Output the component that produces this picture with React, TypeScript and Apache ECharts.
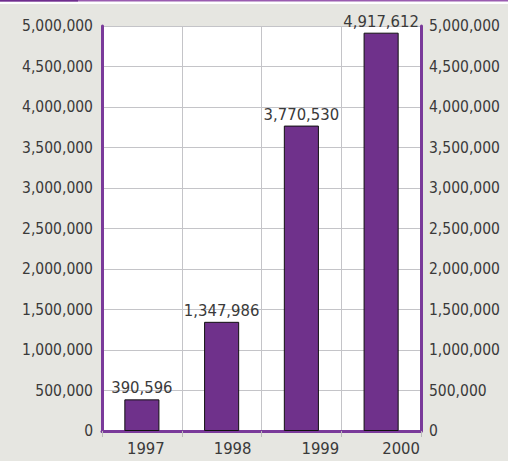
import React, { useEffect, useRef } from "react";
import * as echarts from "echarts";

const years = ["1997", "1998", "1999", "2000"];
const visitors = [390596, 1347986, 3770530, 4917612];
const labelShift = [8, 22, 38, 40];

const FONT = "'DejaVu Sans Condensed', 'Liberation Sans Narrow', sans-serif";
const FS = 15.5;
const TEXT = "#3a3a3a";
const PURPLE = "#7a3a9a";

export default function App() {
  const ref = useRef<HTMLDivElement>(null);
  useEffect(() => {
    if (!ref.current) return;
    const chart = echarts.init(ref.current, null, { renderer: "svg" });
    const fmt = (v: number) => v.toLocaleString("en-US");
    const yLabel = {
      color: TEXT,
      fontFamily: FONT,
      fontSize: FS,
      formatter: (v: number) => fmt(v),
    };
    chart.setOption({
      animation: false,
      backgroundColor: "#e6e6e1",
      graphic: [
        { type: "rect", shape: { x: 0, y: 0, width: 508, height: 4 }, style: { fill: "#ffffff" } },
        { type: "rect", shape: { x: 0, y: 0, width: 508, height: 1.5 }, style: { fill: "#9a5cb0" } },
        { type: "rect", shape: { x: 0, y: 0, width: 78, height: 1.5 }, style: { fill: "#6f2e8e" } },
      ],
      grid: { left: 102, right: 87, top: 26, bottom: 30, containLabel: false, backgroundColor: "#ffffff", show: true, borderWidth: 0 },
      xAxis: {
        type: "category",
        data: years,
        boundaryGap: true,
        axisLine: { show: true, lineStyle: { color: PURPLE, width: 3 } },
        axisTick: { show: true, length: 6, lineStyle: { color: "#bbbbbb" } },
        splitLine: { show: true, lineStyle: { color: "#c4c4c8", width: 1 } },
        axisLabel: {
          margin: 9,
          formatter: (v: string) => `{a${years.indexOf(v)}|${v}}`,
          rich: Object.fromEntries(
            years.map((_, i) => [
              `a${i}`,
              { color: TEXT, fontFamily: FONT, fontSize: FS + 1, padding: [0, 0, 0, labelShift[i]] },
            ])
          ),
        },
      },
      yAxis: [
        {
          type: "value",
          min: 0,
          max: 5000000,
          interval: 500000,
          position: "left",
          axisLine: { show: true, lineStyle: { color: PURPLE, width: 3 } },
          axisTick: { show: false },
          splitLine: { show: true, lineStyle: { color: "#c4c4c8", width: 1 } },
          axisLabel: { ...yLabel, margin: 9 },
        },
        {
          type: "value",
          min: 0,
          max: 5000000,
          interval: 500000,
          position: "right",
          axisLine: { show: true, lineStyle: { color: PURPLE, width: 3 } },
          axisTick: { show: false },
          splitLine: { show: false },
          axisLabel: { ...yLabel, margin: 8 },
        },
      ],
      series: [
        {
          type: "bar",
          data: visitors,
          barWidth: "44%",
          itemStyle: { color: "#6f318b", borderColor: "#111111", borderWidth: 1 },
          label: {
            show: true,
            position: "top",
            distance: 3,
            color: TEXT,
            fontFamily: FONT,
            fontSize: FS + 1,
            formatter: (p: any) => fmt(p.value),
          },
        },
      ],
    });
    return () => chart.dispose();
  }, []);
  return (
    <div
      ref={ref}
      style={{ position: "absolute", left: 0, top: 0, width: 508, height: 461 }}
    />
  );
}
